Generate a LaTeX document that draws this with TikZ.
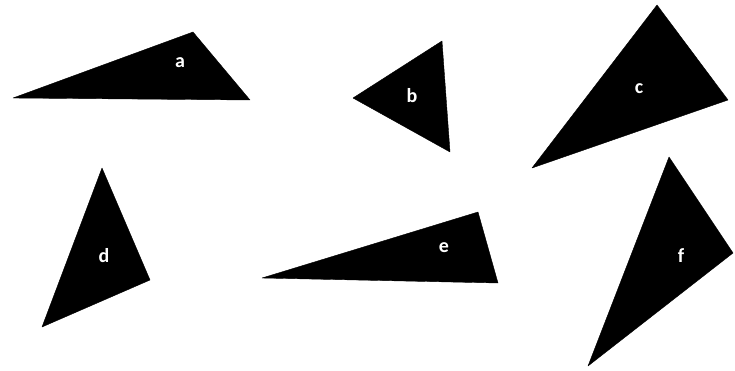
\documentclass[tikz,border=0pt]{standalone}
\usepackage{fontspec}
\setmainfont{Carlito}
\begin{document}
\begin{tikzpicture}[x=1pt, y=-1pt,
    tri/.style={fill=black, draw=black, line join=round},
    lbl/.style={text=white, font=\fontsize{20}{24}\selectfont\bfseries, inner sep=0pt}]
  % Marco (pixeles de la imagen)
  \useasboundingbox (0,0) rectangle (735,371);
  % Triangulos
  \filldraw[tri] (13,98)  -- (193,32)  -- (250,100) -- cycle;  % a
  \filldraw[tri] (353,98) -- (442,41)  -- (450,152) -- cycle;  % b
  \filldraw[tri] (532,168) -- (657,5)  -- (728,100) -- cycle;  % c
  \filldraw[tri] (42,327) -- (102,168) -- (150,280) -- cycle;  % d
  \filldraw[tri] (262,278) -- (478,212) -- (498,283) -- cycle; % e
  \filldraw[tri] (588,366) -- (669,157) -- (733,253) -- cycle; % f
  % Letras
  \foreach \n/\x/\y in {a/180/63, b/412/96, c/639/89, d/104/256, e/444/248, f/681/256}{
    \node[lbl] (l\n) at (\x,\y) {\n};
  }
\end{tikzpicture}
\end{document}
